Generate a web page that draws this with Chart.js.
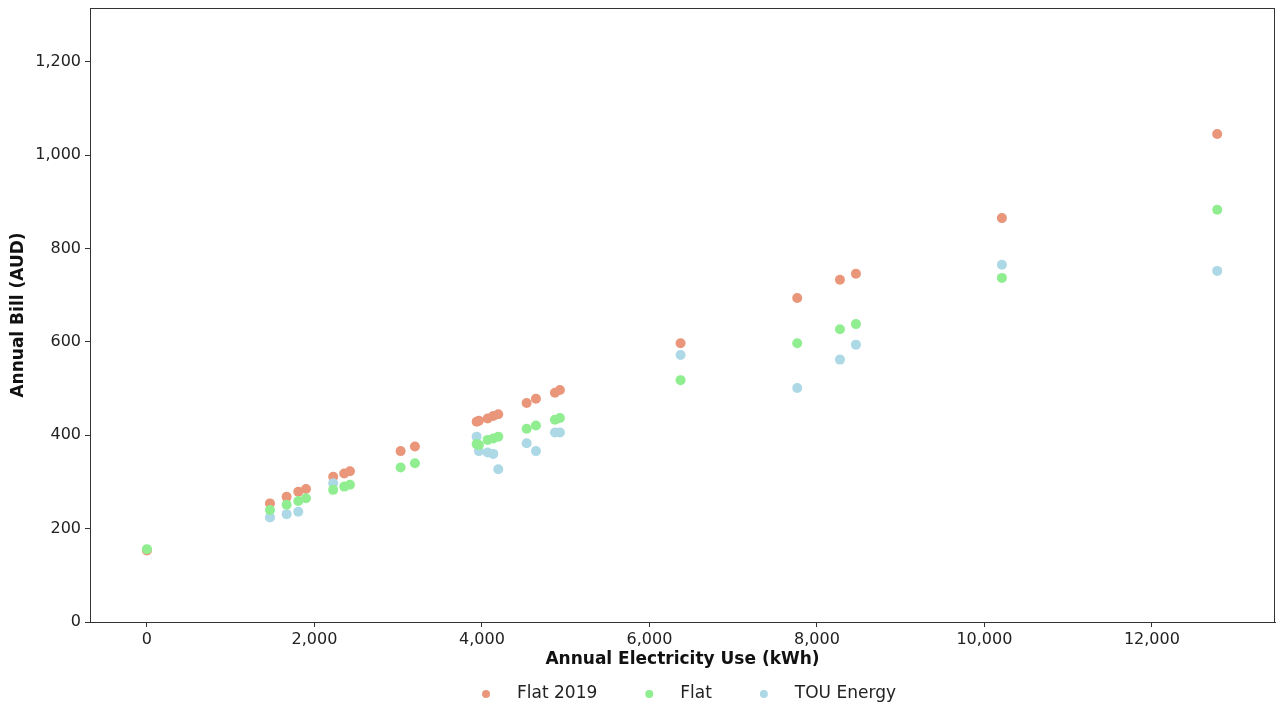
<!DOCTYPE html>
<html>
<head>
<meta charset="utf-8">
<script src="https://cdn.jsdelivr.net/npm/chart.js@4/dist/chart.umd.min.js"></script>
<style>
  html, body { margin: 0; padding: 0; background: #fff; }
  #wrap { width: 1277px; height: 709px; }
</style>
</head>
<body>
<div id="wrap"><canvas id="js--chart"></canvas></div>
<script>
// annual use (kWh) for each household
const usage = [0, 1469, 1668, 1807, 1899, 2224, 2356, 2424, 3029, 3200,
  3937, 3964, 4068, 4135, 4195, 4534, 4645, 4872, 4931, 6372, 7765, 8275, 8466, 10209, 12780];

// annual bill (AUD) per tariff, same order as usage
const flat2019 = [153, 254, 268, 279, 285, 311, 318, 323, 366, 376,
  429, 431, 436, 441, 445, 469, 478, 491, 497, 597, 694, 733, 746, 865, 1045];
const flat = [156, 240, 251, 259, 265, 283, 290, 294, 331, 340,
  381, 379, 390, 393, 397, 414, 421, 433, 437, 518, 597, 627, 638, 737, 883];
// null where no TOU point shows
const touEnergy = [null, 224, 231, 236, null, 297, null, null, null, null,
  397, 366, 363, 360, 327, 383, 366, 406, 406, 572, 501, 562, 594, 765, 752];

const xTicks = [0, 2000, 4000, 6000, 8000, 10000, 12000];
const yTicks = [0, 200, 400, 600, 800, 1000, 1200];

function toPoints(vals) {
  const pts = [];
  for (let i = 0; i < usage.length; i++) {
    if (vals[i] !== null) pts.push({ x: usage[i], y: vals[i] });
  }
  return pts;
}

const tickFont = { family: "'DejaVu Sans', sans-serif", size: 16 };
const titleFont = { family: "'DejaVu Sans', sans-serif", size: 17, weight: 'bold' };

// full box round the plot like matplotlib spines
const frame = {
  id: 'frame',
  afterDraw(chart) {
    const a = chart.chartArea;
    const ctx = chart.ctx;
    ctx.save();
    ctx.strokeStyle = '#333';
    ctx.lineWidth = 1;
    ctx.strokeRect(a.left + 0.5, a.top + 0.5, a.right - a.left - 1, a.bottom - a.top);
    ctx.restore();
  }
};

// legend under the x title, in dataset order
const bottomLegend = {
  id: 'bottomLegend',
  afterDraw(chart) {
    const ctx = chart.ctx;
    const y = 694;
    const gapText = 31;
    const gapItem = 52;
    ctx.save();
    ctx.font = "17px 'DejaVu Sans', sans-serif";
    ctx.textBaseline = 'middle';
    const items = chart.data.datasets.map(d => ({ label: d.label, color: d.backgroundColor, w: ctx.measureText(d.label).width }));
    let total = 0;
    items.forEach((it, i) => { total += gapText + it.w + (i < items.length - 1 ? gapItem : 0); });
    let x = 691 - total / 2;
    items.forEach(it => {
      ctx.fillStyle = it.color;
      ctx.beginPath();
      ctx.arc(x, y, 4, 0, Math.PI * 2);
      ctx.fill();
      ctx.fillStyle = '#222';
      ctx.fillText(it.label, x + gapText, y);
      x += gapText + it.w + gapItem;
    });
    ctx.restore();
  }
};

const config = {
  type: 'scatter',
  data: {
    datasets: [
      { label: 'Flat 2019', data: toPoints(flat2019), backgroundColor: '#E9967A', borderWidth: 0, pointRadius: 5, order: 3 },
      { label: 'Flat', data: toPoints(flat), backgroundColor: '#90EE90', borderWidth: 0, pointRadius: 5, order: 1 },
      { label: 'TOU Energy', data: toPoints(touEnergy), backgroundColor: '#ADD8E6', borderWidth: 0, pointRadius: 5, order: 2 }
    ]
  },
  options: {
    responsive: false,
    animation: false,
    layout: { autoPadding: false, padding: { top: 8, right: 2, left: 0, bottom: 39 } },
    plugins: {
      legend: { display: false },
      tooltip: { enabled: false }
    },
    scales: {
      x: {
        type: 'linear',
        min: -680,
        max: 13470,
        afterBuildTicks: (s) => { s.ticks = xTicks.map(v => ({ value: v })); },
        afterFit: (s) => { s.height = 48; s.paddingLeft = 0; s.paddingRight = 0; },
        ticks: {
          color: '#222',
          font: tickFont,
          padding: 3,
          callback: (v) => v.toLocaleString('en-US')
        },
        grid: { drawOnChartArea: false, drawTicks: true, tickLength: 5, color: '#333' },
        border: { color: '#333' },
        title: { display: true, text: 'Annual Electricity Use (kWh)', color: '#111', font: titleFont, padding: { top: 0, bottom: 0 } }
      },
      y: {
        min: 0,
        max: 1315,
        afterBuildTicks: (s) => { s.ticks = yTicks.map(v => ({ value: v })); },
        afterFit: (s) => { s.width = 90; s.paddingTop = 0; s.paddingBottom = 0; },
        ticks: {
          color: '#222',
          font: tickFont,
          padding: 4,
          callback: (v) => v.toLocaleString('en-US')
        },
        grid: { drawOnChartArea: false, drawTicks: true, tickLength: 5, color: '#333' },
        border: { color: '#333' },
        title: { display: true, text: 'Annual Bill (AUD)', color: '#111', font: titleFont, padding: { top: 8, bottom: 0 } }
      }
    }
  },
  plugins: [frame, bottomLegend]
};

const canvas = document.getElementById('js--chart');
canvas.width = 1277;
canvas.height = 709;
const chart = new Chart(canvas, config);
</script>
</body>
</html>
